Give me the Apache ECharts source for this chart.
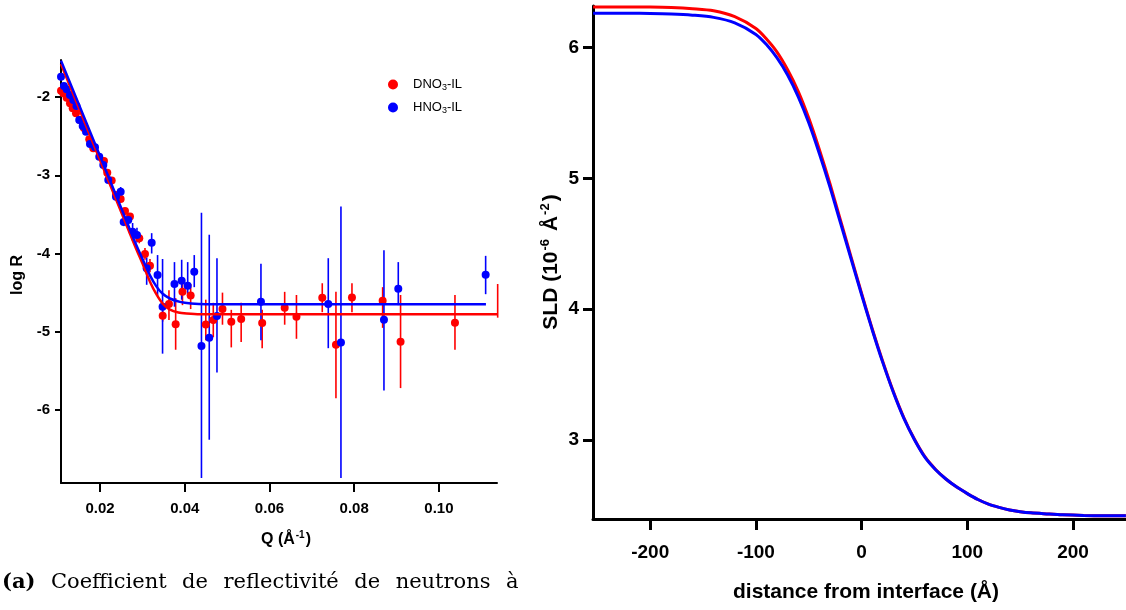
<!DOCTYPE html>
<html><head><meta charset="utf-8">
<script src="https://cdn.jsdelivr.net/npm/echarts@6/dist/echarts.min.js"></script>
<style>html,body{margin:0;padding:0;background:#fff}#c{width:1126px;height:610px}</style>
</head><body><div id="c"></div>
<script>
// ---------- Left panel: reflectivity ----------
const xTicksQ = [0.02, 0.04, 0.06, 0.08, 0.10];
const yTicksLogR = [-6, -5, -4, -3, -2];

const dno3Q = [0.01080,0.01134,0.01214,0.01292,0.01356,0.01434,0.01528,0.01622,0.01747,0.01842,0.02094,0.02172,0.02276,0.02378,0.02488,0.02590,0.02708,0.02927,0.03062,0.03180,0.03480,0.03628,0.03786,0.03947,0.04140,0.04497,0.04674,0.04891,0.05099,0.05332,0.05828,0.06359,0.06637,0.07246,0.07569,0.07947,0.08671,0.09094,0.10378,0.11386];
const dno3LogR = [-1.919,-1.953,-2.009,-2.081,-2.144,-2.208,-2.294,-2.396,-2.541,-2.656,-2.818,-2.967,-3.067,-3.252,-3.304,-3.457,-3.527,-3.806,-4.006,-4.156,-4.795,-4.645,-4.905,-4.488,-4.537,-4.907,-4.850,-4.709,-4.872,-4.837,-4.888,-4.693,-4.808,-4.565,-5.167,-4.562,-4.603,-5.127,-4.884,-4.616];
const dno3ErrLow = [null,null,null,null,null,null,null,null,null,null,null,null,null,null,null,null,null,-3.87,-4.08,-4.24,-4.87,-4.85,-5.23,-4.66,-4.71,-5.11,-5.07,-4.91,-5.20,-5.13,-5.21,-4.91,-5.09,-4.75,-5.85,-4.75,-4.95,-5.72,-5.23,-4.82];
const dno3ErrHigh = [null,null,null,null,null,null,null,null,null,null,null,null,null,null,null,null,null,-3.74,-3.93,-4.07,-4.72,-4.47,-4.57,-4.31,-4.39,-4.59,-4.63,-4.50,-4.72,-4.63,-4.72,-4.49,-4.53,-4.38,-4.49,-4.38,-4.43,-4.53,-4.53,-4.39];

const hno3Q = [0.01080,0.01150,0.01214,0.01292,0.01370,0.01445,0.01511,0.01592,0.01670,0.01764,0.01882,0.01983,0.02078,0.02196,0.02378,0.02488,0.02559,0.02668,0.02770,0.02873,0.03102,0.03220,0.03359,0.03477,0.03758,0.03928,0.04070,0.04225,0.04395,0.04579,0.04761,0.05799,0.07388,0.07687,0.08702,0.09040,0.11102];
const hno3LogR = [-1.741,-1.859,-1.902,-1.974,-2.038,-2.115,-2.294,-2.371,-2.443,-2.601,-2.643,-2.763,-2.869,-3.061,-3.274,-3.210,-3.598,-3.572,-3.721,-3.764,-4.189,-3.862,-4.275,-4.680,-4.390,-4.348,-4.413,-4.233,-5.182,-5.076,-4.799,-4.616,-4.645,-5.137,-4.846,-4.450,-4.271];
const hno3ErrLow = [null,null,null,null,null,null,null,null,null,null,null,null,null,null,null,-3.28,-3.65,-3.66,-3.84,-3.86,-4.40,-4.00,-4.54,-5.28,-4.68,-4.59,-4.54,-4.43,-6.87,-6.38,-5.52,-5.11,-5.21,-6.87,-5.75,-4.66,-4.52];
const hno3ErrHigh = [null,null,null,null,null,null,null,null,null,null,null,null,null,null,null,-3.15,-3.54,-3.50,-3.61,-3.67,-4.05,-3.74,-4.02,-4.07,-4.11,-4.08,-4.11,-4.02,-3.48,-3.76,-4.06,-4.13,-4.06,-3.40,-3.96,-4.11,-4.03];

const dno3FitQ = [0.01080,0.02000,0.02472,0.02826,0.03020,0.03180,0.03330,0.03480,0.03652,0.03850,0.04046,0.04360,0.11383];
const dno3FitLogR = [-1.578,-2.805,-3.431,-3.904,-4.150,-4.360,-4.520,-4.640,-4.718,-4.755,-4.768,-4.777,-4.777];
const hno3FitQ = [0.01080,0.02000,0.02472,0.02826,0.03020,0.03180,0.03330,0.03480,0.03650,0.03888,0.04150,0.04500,0.11109];
const hno3FitLogR = [-1.535,-2.754,-3.380,-3.853,-4.090,-4.280,-4.420,-4.515,-4.575,-4.618,-4.638,-4.647,-4.649];

// ---------- Right panel: SLD profiles ----------
const xTicksZ = [-200, -100, 0, 100, 200];
const yTicksSLD = [3, 4, 5, 6];
const sldZ = [-254,-220,-200,-180,-160,-140,-120,-100,-90,-80,-70,-60,-50,-40,-30,-20,-10,0,10,20,30,40,50,60,70,80,90,100,110,120,130,140,150,160,175,190,210,230,250];
const sldDNO3 = [6.310,6.310,6.309,6.305,6.296,6.280,6.235,6.145,6.065,5.965,5.830,5.665,5.460,5.220,4.960,4.680,4.400,4.120,3.850,3.600,3.370,3.170,3.005,2.870,2.775,2.700,2.640,2.590,2.545,2.510,2.485,2.465,2.452,2.443,2.435,2.428,2.423,2.421,2.420];
const sldHNO3 = [6.261,6.261,6.260,6.256,6.247,6.230,6.188,6.100,6.022,5.920,5.790,5.625,5.425,5.190,4.935,4.660,4.385,4.110,3.843,3.593,3.365,3.165,3.002,2.867,2.773,2.700,2.640,2.590,2.545,2.510,2.485,2.465,2.452,2.443,2.435,2.428,2.423,2.421,2.420];

const RED = '#ff0000', BLUE = '#0000ff';
const FONT = 'Liberation Sans';

function pairs(xs, ys) { return xs.map((x, i) => [x, ys[i]]); }
function errData(xs, lo, hi) {
  const out = [];
  xs.forEach((x, i) => { if (lo[i] != null && hi[i] != null) out.push([x, lo[i], hi[i]]); });
  return out;
}
function errSeries(xs, lo, hi, color) {
  return {
    type: 'custom', xAxisIndex: 0, yAxisIndex: 0, silent: true,
    data: errData(xs, lo, hi),
    renderItem: function (params, api) {
      const p1 = api.coord([api.value(0), api.value(1)]);
      const p2 = api.coord([api.value(0), api.value(2)]);
      return { type: 'line', shape: { x1: p1[0], y1: p1[1], x2: p2[0], y2: p2[1] },
               style: { stroke: color, lineWidth: 1.6 } };
    }
  };
}

const chart = echarts.init(document.getElementById('c'), null, { renderer: 'canvas' });

const axisCommon = (lw, tickLen, fs, margin, custom, fmt) => ({
  axisLine: { show: true, onZero: false, lineStyle: { color: '#000', width: lw } },
  axisTick: { show: true, inside: false, length: tickLen, lineStyle: { color: '#000', width: lw }, customValues: custom },
  axisLabel: { show: true, color: '#000', fontFamily: FONT, fontWeight: 'bold', fontSize: fs, margin: margin, customValues: custom, formatter: fmt },
  splitLine: { show: false }
});

const capFont = 'DejaVu Serif';
const capWord = { fontFamily: capFont, fontSize: 21, fill: '#000', padding: [0, 0, 0, 15.5] };

const option = {
  animation: false,
  backgroundColor: '#fff',
  grid: [
    { left: 61, top: 60, width: 436, height: 423 },
    { left: 593, top: 6, width: 533, height: 513 }
  ],
  xAxis: [
    Object.assign({ type: 'value', gridIndex: 0, min: 0.0108, max: 0.1137 },
      axisCommon(2, 9, 15, 18, xTicksQ, v => v.toFixed(2))),
    Object.assign({ type: 'value', gridIndex: 1, min: -254.1, max: 250.1 },
      axisCommon(3, 11, 19, 24, xTicksZ, v => String(v)))
  ],
  yAxis: [
    Object.assign({ type: 'value', gridIndex: 0, min: -6.933, max: -1.527 },
      axisCommon(2, 6, 15, 11, yTicksLogR, v => String(v))),
    Object.assign({ type: 'value', gridIndex: 1, min: 2.396, max: 6.317 },
      axisCommon(3, 10, 19, 14, yTicksSLD, v => String(v)))
  ],
  legend: {
    left: 388, top: 78, padding: 0, orient: 'vertical',
    itemWidth: 10, itemHeight: 10, itemGap: 9, icon: 'circle',
    data: ['DNO3-IL', 'HNO3-IL'],
    formatter: name => '{a|' + name.slice(0, 3) + '}{s|3}{n|' + name.slice(4) + '}',
    textStyle: {
      color: '#000', fontFamily: FONT, fontSize: 13,
      rich: {
        a: { fontFamily: FONT, fontSize: 13, color: '#000', padding: [0, 0, 0, 10] },
        s: { fontFamily: FONT, fontSize: 9, color: '#000', padding: [6, 0, 0, 0] },
        n: { fontFamily: FONT, fontSize: 13, color: '#000' }
      }
    }
  },
  series: [
    errSeries(dno3Q, dno3ErrLow, dno3ErrHigh, RED),
    errSeries(hno3Q, hno3ErrLow, hno3ErrHigh, BLUE),
    { type: 'line', name: 'DNO3 fit', xAxisIndex: 0, yAxisIndex: 0, data: pairs(dno3FitQ, dno3FitLogR),
      showSymbol: false, smooth: 0.25, lineStyle: { color: RED, width: 2.5 }, silent: true },
    { type: 'line', name: 'HNO3 fit', xAxisIndex: 0, yAxisIndex: 0, data: pairs(hno3FitQ, hno3FitLogR),
      showSymbol: false, smooth: 0.25, lineStyle: { color: BLUE, width: 2.5 }, silent: true },
    { type: 'scatter', name: 'DNO3-IL', xAxisIndex: 0, yAxisIndex: 0, data: pairs(dno3Q, dno3LogR),
      symbol: 'circle', symbolSize: 8, itemStyle: { color: RED, opacity: 1 } },
    { type: 'scatter', name: 'HNO3-IL', xAxisIndex: 0, yAxisIndex: 0, data: pairs(hno3Q, hno3LogR),
      symbol: 'circle', symbolSize: 8, itemStyle: { color: BLUE, opacity: 1 } },
    { type: 'line', name: 'SLD DNO3', xAxisIndex: 1, yAxisIndex: 1, data: pairs(sldZ, sldDNO3),
      showSymbol: false, smooth: 0.3, lineStyle: { color: RED, width: 3 }, silent: true },
    { type: 'line', name: 'SLD HNO3', xAxisIndex: 1, yAxisIndex: 1, data: pairs(sldZ, sldHNO3),
      showSymbol: false, smooth: 0.3, lineStyle: { color: BLUE, width: 3 }, silent: true }
  ],
  graphic: [
    { type: 'text', x: 18, y: 275, rotation: Math.PI / 2,
      style: { text: 'log R', font: 'bold 16px ' + FONT, fill: '#000', align: 'center', verticalAlign: 'middle' } },
    { type: 'text', x: 286, y: 540,
      style: { text: '{b|Q (Å}{p|-1}{b|)}', fill: '#000', align: 'center', verticalAlign: 'middle',
        rich: { b: { fontFamily: FONT, fontWeight: 'bold', fontSize: 16, fill: '#000' },
                p: { fontFamily: FONT, fontWeight: 'bold', fontSize: 10, fill: '#000', padding: [0, 1, 9, 1] } } } },
    { type: 'text', x: 551, y: 262, rotation: Math.PI / 2,
      style: { text: '{b|SLD (10}{p|-6}{b| Å}{p|-2}{b|)}', fill: '#000', align: 'center', verticalAlign: 'middle',
        rich: { b: { fontFamily: FONT, fontWeight: 'bold', fontSize: 21, fill: '#000' },
                p: { fontFamily: FONT, fontWeight: 'bold', fontSize: 13, fill: '#000', padding: [0, 2, 12, 1] } } } },
    { type: 'text', x: 866, y: 592,
      style: { text: 'distance from interface (Å)', font: 'bold 21px ' + FONT, fill: '#000', align: 'center', verticalAlign: 'middle' } },
    { type: 'text', x: 2, y: 583,
      style: { text: '{a|(a)}{w|Coefficient}{w|de}{w|reflectivité}{w|de}{w|neutrons}{w|à}', fill: '#000', align: 'left', verticalAlign: 'middle',
        rich: { a: { fontFamily: capFont, fontWeight: 'bold', fontSize: 21, fill: '#000' },
                w: capWord } } }
  ]
};
chart.setOption(option);
</script></body></html>
